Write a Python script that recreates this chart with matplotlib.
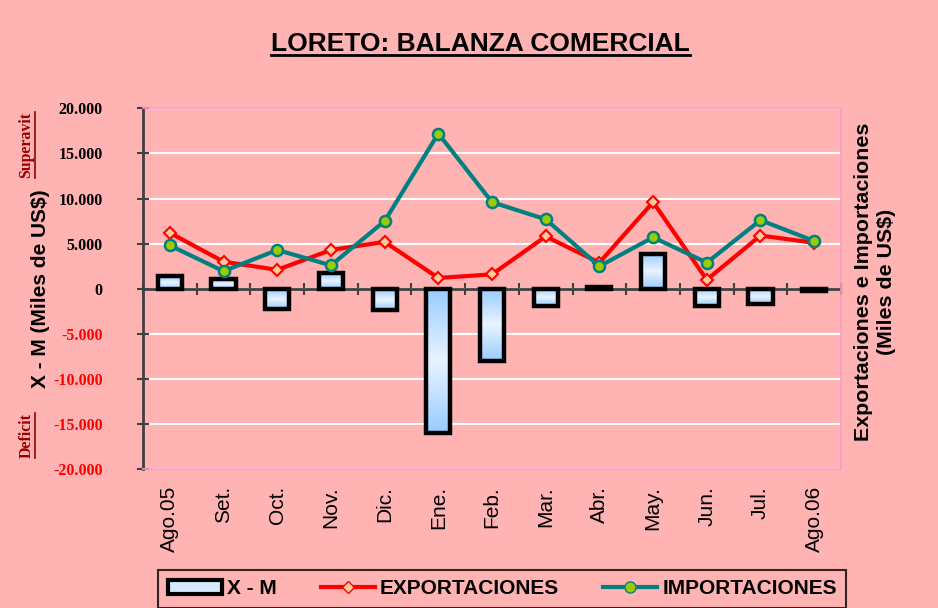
import numpy as np
import matplotlib.pyplot as plt
from matplotlib.patches import Patch
from matplotlib.lines import Line2D
from matplotlib.colors import LinearSegmentedColormap

meses = ['Ago.05', 'Set.', 'Oct.', 'Nov.', 'Dic.', 'Ene.', 'Feb.', 'Mar.',
         'Abr.', 'May.', 'Jun.', 'Jul.', 'Ago.06']
exportaciones = [6200, 3000, 2100, 4300, 5200, 1200, 1600, 5800, 2900, 9600, 1000, 5900, 5100]
importaciones = [4800, 1950, 4300, 2600, 7500, 17200, 9600, 7700, 2500, 5700, 2900, 7600, 5300]
saldo = [1400, 1050, -2200, 1700, -2300, -16000, -8000, -1900, 250, 3900, -1900, -1700, -200]
yticks = [-20000, -15000, -10000, -5000, 0, 5000, 10000, 15000, 20000]

fondo = '#FFB3B3'
rosa = '#FF99CC'
gris = '#404040'

fig = plt.figure(figsize=(9.38, 6.08), dpi=100, facecolor=fondo)
ax = fig.add_axes([0.1525, 0.2281, 0.7441, 0.5938], facecolor=fondo)

x = np.arange(len(meses))
ancho = 0.45

# barras X - M con degradado azul
cmap = LinearSegmentedColormap.from_list('azul', ['#99CCFF', '#E8F4FF', '#99CCFF'])
barras = ax.bar(x, saldo, ancho, facecolor='none', edgecolor='black', linewidth=3.2, zorder=3)
for b in barras:
    x0, y0 = b.get_x(), b.get_y()
    w, h = b.get_width(), b.get_height()
    grad = np.linspace(0, 1, 100).reshape(-1, 1)
    im = ax.imshow(grad, extent=(x0, x0 + w, min(y0, y0 + h), max(y0, y0 + h)),
                   aspect='auto', cmap=cmap, origin='lower', zorder=2.5)
    im.set_clip_path(b)

ax.plot(x, exportaciones, color='#FF0000', lw=3, marker='D', ms=6,
        mfc='#FFCC99', mec='#FF0000', mew=1.5, zorder=5)
ax.plot(x, importaciones, color='#008080', lw=3, marker='o', ms=8,
        mfc='#99CC00', mec='#008080', mew=1.8, zorder=6)

ax.set_xlim(-0.5, len(meses) - 0.5)
ax.set_ylim(-20000, 20000)

# grilla blanca
ax.set_yticks(yticks)
ax.yaxis.grid(True, color='white', lw=1.5, zorder=0)
ax.set_axisbelow(True)
ax.set_yticklabels(['{:,}'.format(v).replace(',', '.') for v in yticks],
                   fontfamily='Liberation Serif', fontweight='bold', fontsize=11.5)
for lab, v in zip(ax.get_yticklabels(), yticks):
    lab.set_color('#FF0000' if v < 0 else 'black')
ax.tick_params(axis='y', direction='inout', length=8, width=1.5, color=gris, pad=25)

ax.set_xticks(x)
ax.set_xticklabels(meses, rotation=90, fontsize=15, fontfamily='Liberation Sans')
ax.tick_params(axis='x', length=0, pad=12)

for s in ['top', 'right', 'bottom']:
    ax.spines[s].set_color(rosa)
    ax.spines[s].set_linewidth(1.2)
ax.spines['left'].set_color(gris)
ax.spines['left'].set_linewidth(2)

# eje en cero con marcas entre categorias
ax.axhline(0, color=gris, lw=2, zorder=2)
eje0 = ax.secondary_xaxis(0.5)
eje0.set_xticks(np.arange(-0.5, len(meses)))
eje0.set_xticklabels([])
eje0.tick_params(direction='inout', length=8, width=1.5, color=gris)
for s in eje0.spines.values():
    s.set_visible(False)

fig.text(0.043, 0.526, 'X - M (Miles de US$)', rotation=90, ha='center', va='center',
         fontsize=15, fontweight='bold', fontfamily='Liberation Sans')

titulo = fig.text(0.512, 0.927, 'LORETO: BALANZA COMERCIAL', ha='center', va='center',
                  fontsize=19, fontweight='bold', fontfamily='Liberation Sans')
sup = fig.text(0.028, 0.761, 'Superavit', rotation=90, ha='center', va='center',
               fontsize=11.4, fontweight='bold', fontfamily='Liberation Serif', color='#990000')
dfc = fig.text(0.028, 0.284, 'Deficit', rotation=90, ha='center', va='center',
               fontsize=11.4, fontweight='bold', fontfamily='Liberation Serif', color='#990000')
fig.text(0.933, 0.536, 'Exportaciones e Importaciones\n(Miles de US$)', rotation=90,
         ha='center', va='center', fontsize=15.4, fontweight='bold',
         fontfamily='Liberation Sans', linespacing=1.25)

# subrayados
fig.canvas.draw()
r = fig.canvas.get_renderer()
W, H = fig.bbox.width, fig.bbox.height
bb = titulo.get_window_extent(r)
fig.add_artist(Line2D([bb.x0 / W, bb.x1 / W], [(bb.y0 + 1) / H] * 2, color='black', lw=2))
for t in [sup, dfc]:
    bb = t.get_window_extent(r)
    fig.add_artist(Line2D([(bb.x1 + 1) / W] * 2, [bb.y0 / H, bb.y1 / H], color='#990000', lw=1.2))

handles = [Patch(facecolor='#D6EAFF', edgecolor='black', linewidth=3, label='X - M'),
           Line2D([0], [0], color='#FF0000', lw=3, marker='D', ms=6, mfc='#FFCC99',
                  mec='#FF0000', label='EXPORTACIONES'),
           Line2D([0], [0], color='#008080', lw=3, marker='o', ms=8, mfc='#99CC00',
                  mec='#008080', label='IMPORTACIONES')]
leg = fig.legend(handles=handles, loc='upper center', bbox_to_anchor=(0.5355, 0.0625), ncol=3,
                 frameon=True, fancybox=False, facecolor=fondo, edgecolor='black',
                 prop={'family': 'Liberation Sans', 'weight': 'bold', 'size': 15},
                 handlelength=2.6, handletextpad=0.25, columnspacing=2.1,
                 borderpad=0.45, borderaxespad=0)
leg.get_frame().set_linewidth(1.5)

fig.savefig('out.png', dpi=100, facecolor=fondo)
